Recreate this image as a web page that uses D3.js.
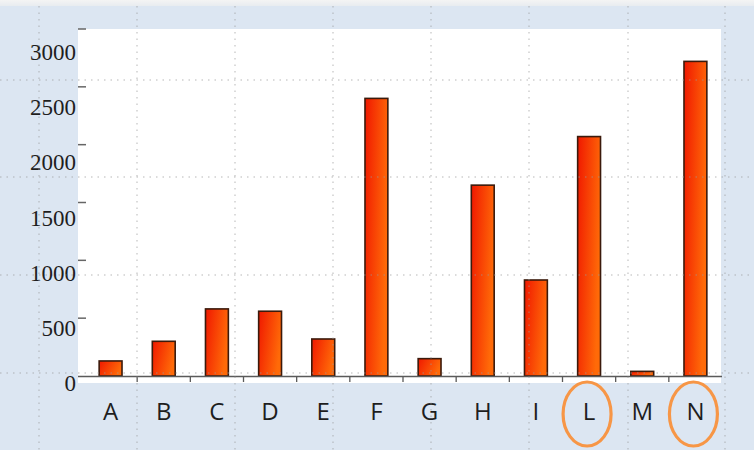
<!DOCTYPE html>
<html>
<head>
<meta charset="utf-8">
<script src="https://cdn.jsdelivr.net/npm/d3@7"></script>
<style>
  html, body { margin: 0; padding: 0; background: #dce6f2; }
  svg { display: block; }
</style>
</head>
<body>
<div id="chart"></div>
<script>
// values
const categories = ["A", "B", "C", "D", "E", "F", "G", "H", "I", "L", "M", "N"];
const values = [130, 300, 580, 560, 320, 2400, 150, 1650, 830, 2070, 40, 2720];
const yTicks = [0, 500, 1000, 1500, 2000, 2500, 3000];
const circled = ["L", "N"];

const width = 754, height = 450;

const svg = d3.select("#chart").append("svg")
    .attr("width", width)
    .attr("height", height);

const defs = svg.append("defs");
const grad = defs.append("linearGradient")
    .attr("id", "barGrad")
    .attr("x1", "0").attr("y1", "0")
    .attr("x2", "1").attr("y2", "0.35");
grad.append("stop").attr("offset", "0%").attr("stop-color", "#f01800");
grad.append("stop").attr("offset", "100%").attr("stop-color", "#ff6a08");

const topBand = defs.append("linearGradient")
    .attr("id", "topBand")
    .attr("x1", "0").attr("y1", "0").attr("x2", "0").attr("y2", "1");
topBand.append("stop").attr("offset", "0%").attr("stop-color", "#f4f4f4");
topBand.append("stop").attr("offset", "100%").attr("stop-color", "#e8ecf0");

// page background
svg.append("rect").attr("width", width).attr("height", height).attr("fill", "#dce6f2");
svg.append("rect").attr("width", width).attr("height", 6).attr("fill", "url(#topBand)");

// plot area
const plot = { left: 78, right: 722, top: 29, bottom: 376 };
svg.append("rect")
    .attr("x", plot.left).attr("y", plot.top)
    .attr("width", plot.right - plot.left - 1)
    .attr("height", 383 - plot.top)
    .attr("fill", "#ffffff");

const x = d3.scaleBand()
    .domain(categories)
    .range([84, plot.right])
    .paddingInner(0.57)
    .paddingOuter(0.285);

const y = d3.scaleLinear()
    .domain([0, 3000])
    .range([plot.bottom, plot.top]);

// the tick labels sit a little lower than the tick marks
const yLabel = d3.scaleLinear()
    .domain([0, 3000])
    .range([383, 52]);

// bars
svg.append("g")
    .selectAll("rect")
    .data(categories)
    .join("rect")
    .attr("x", d => x(d))
    .attr("y", (d, i) => y(values[i]))
    .attr("width", x.bandwidth())
    .attr("height", (d, i) => y(0) - y(values[i]))
    .attr("fill", "url(#barGrad)")
    .attr("stroke", "#3b1a0c")
    .attr("stroke-width", 1.6);

// x axis line and boundary ticks
const step = x.step();
const xAxis = svg.append("g");
xAxis.append("line")
    .attr("x1", plot.left).attr("x2", plot.right)
    .attr("y1", plot.bottom + 0.5).attr("y2", plot.bottom + 0.5)
    .attr("stroke", "#5a5a5a").attr("stroke-width", 1.5);
xAxis.selectAll("line.tick")
    .data(categories.slice(1))
    .join("line")
    .attr("class", "tick")
    .attr("x1", d => x(d) - (step - x.bandwidth()) / 2)
    .attr("x2", d => x(d) - (step - x.bandwidth()) / 2)
    .attr("y1", plot.bottom).attr("y2", plot.bottom + 6)
    .attr("stroke", "#5a5a5a").attr("stroke-width", 1.3);

xAxis.selectAll("text")
    .data(categories)
    .join("text")
    .attr("x", d => x(d) + x.bandwidth() / 2)
    .attr("y", 420)
    .attr("text-anchor", "middle")
    .attr("font-family", "'Open Sans', 'Noto Sans', sans-serif")
    .attr("font-size", 24)
    .attr("fill", "#1e1e1e")
    .text(d => d);

// y ticks and labels
const yAxis = svg.append("g");
yAxis.selectAll("line")
    .data(yTicks.filter(d => d > 0))
    .join("line")
    .attr("x1", plot.left).attr("x2", plot.left + 8)
    .attr("y1", d => y(d)).attr("y2", d => y(d))
    .attr("stroke", "#666").attr("stroke-width", 1.5);
yAxis.selectAll("text")
    .data(yTicks)
    .join("text")
    .attr("x", 76)
    .attr("y", d => yLabel(d))
    .attr("dy", "0.35em")
    .attr("text-anchor", "end")
    .attr("font-family", "'Liberation Serif', 'DejaVu Serif', serif")
    .attr("font-size", 23)
    .attr("fill", "#1e1e1e")
    .text(d => d);

// slide guide grid (dotted, spans whole picture)
const gridX = [39, 137, 235, 333, 431, 529, 628, 725];
const gridY = [80, 177, 275, 373];
const grid = svg.append("g")
    .attr("stroke", "#9a9a9a")
    .attr("stroke-width", 1)
    .attr("stroke-dasharray", "1.5,5")
    .attr("opacity", 0.7);
grid.selectAll("line.v").data(gridX).join("line").attr("class", "v")
    .attr("x1", d => d).attr("x2", d => d).attr("y1", 6).attr("y2", height);
grid.selectAll("line.h").data(gridY).join("line").attr("class", "h")
    .attr("x1", 0).attr("x2", width).attr("y1", d => d).attr("y2", d => d);

// highlight ellipses
svg.append("g")
    .selectAll("ellipse")
    .data(circled)
    .join("ellipse")
    .attr("cx", d => x(d) + x.bandwidth() / 2 - 2)
    .attr("cy", 414)
    .attr("rx", 24)
    .attr("ry", 32)
    .attr("fill", "none")
    .attr("stroke", "#f79646")
    .attr("stroke-width", 3.2);
</script>
</body>
</html>
